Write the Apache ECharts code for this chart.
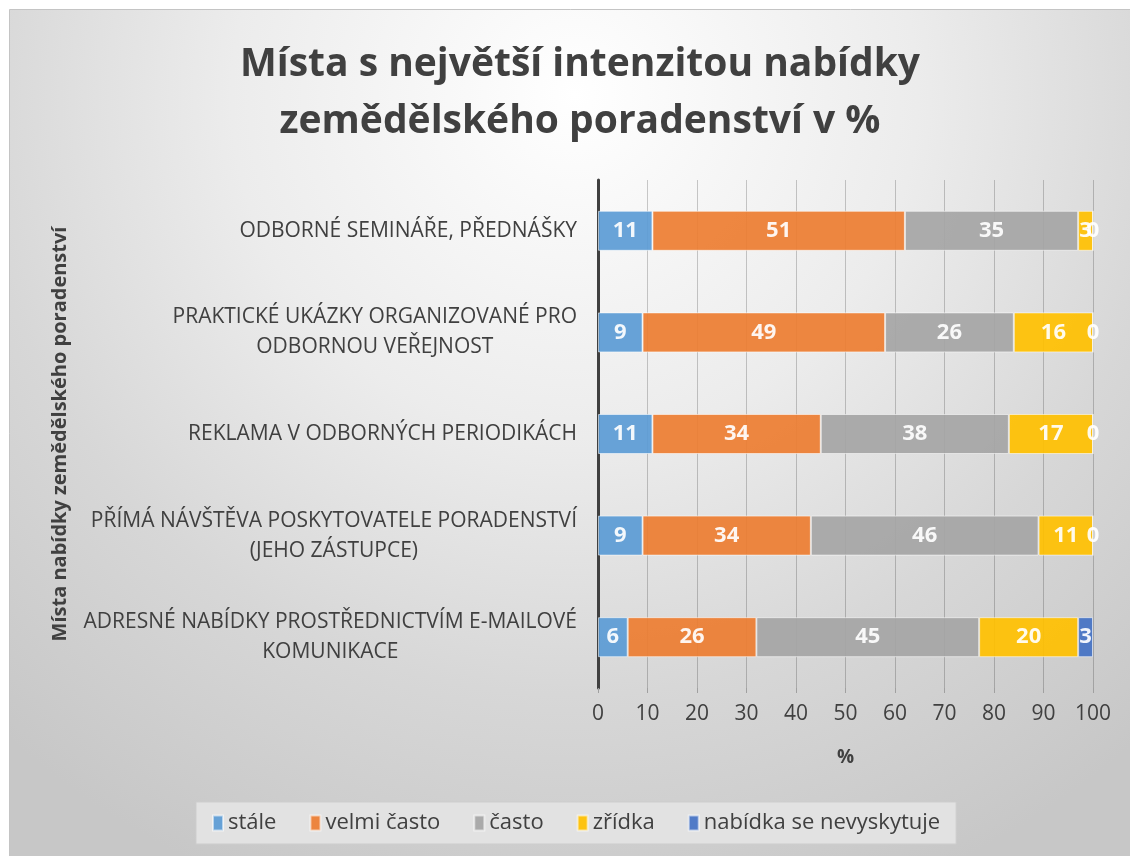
<!DOCTYPE html>
<html>
<head>
<meta charset="utf-8">
<script src="https://cdn.jsdelivr.net/npm/echarts@6/dist/echarts.min.js"></script>
<style>
  html, body { margin: 0; padding: 0; background: #fff; }
  #chart { width: 1130px; height: 856px; }
</style>
</head>
<body>
<div id="chart"></div>
<script>
const categories = [
  'ODBORNÉ SEMINÁŘE, PŘEDNÁŠKY',
  'PRAKTICKÉ UKÁZKY ORGANIZOVANÉ PRO\nODBORNOU VEŘEJNOST',
  'REKLAMA V ODBORNÝCH PERIODIKÁCH',
  'PŘÍMÁ NÁVŠTĚVA POSKYTOVATELE PORADENSTVÍ\n(JEHO ZÁSTUPCE)',
  'ADRESNÉ NABÍDKY PROSTŘEDNICTVÍM E-MAILOVÉ\nKOMUNIKACE'
]
const stale = [11, 9, 11, 9, 6]
const velmiCasto = [51, 49, 34, 34, 26]
const casto = [35, 26, 38, 46, 45]
const zridka = [3, 16, 17, 11, 20]
const nevyskytuje = [0, 0, 0, 0, 3]
const xTicks = [0, 10, 20, 30, 40, 50, 60, 70, 80, 90, 100]

const font = '"Open Sans", "DejaVu Sans", sans-serif'
const textColor = '#404040'

const seriesDefs = [
  { name: 'stále', data: stale, color: '#5b9bd5' },
  { name: 'velmi často', data: velmiCasto, color: '#ed7d31' },
  { name: 'často', data: casto, color: '#a5a5a5' },
  { name: 'zřídka', data: zridka, color: '#ffc000' },
  { name: 'nabídka se nevyskytuje', data: nevyskytuje, color: '#4472c4' }
]

const chart = echarts.init(document.getElementById('chart'))

const option = {
  backgroundColor: '#ffffff',
  textStyle: { fontFamily: font },
  graphic: [
    {
      type: 'rect',
      z: -10,
      silent: true,
      shape: { x: 9.5, y: 9.5, width: 1130, height: 856 },
      style: {
        fill: new echarts.graphic.RadialGradient(0.5, 0.1, 1, [
          { offset: 0, color: '#ffffff' },
          { offset: 0.4, color: '#ececec' },
          { offset: 0.7, color: '#d7d7d7' },
          { offset: 1, color: '#c7c7c7' }
        ]),
        stroke: '#c4c4c4',
        lineWidth: 1
      }
    }
  ],
  title: {
    text: 'Místa s největší intenzitou nabídky\nzemědělského poradenství v %',
    left: 575,
    top: 31,
    textAlign: 'center',
    textStyle: {
      fontFamily: font,
      fontSize: 39,
      fontWeight: 'bold',
      color: textColor,
      lineHeight: 57
    }
  },
  legend: {
    data: seriesDefs.map(s => s.name),
    left: 196,
    top: 802,
    icon: 'rect',
    itemWidth: 10,
    itemHeight: 15,
    itemGap: 33,
    padding: [10, 16],
    backgroundColor: '#e2e2e2',
    borderColor: '#cdcdcd',
    borderWidth: 1,
    textStyle: { fontFamily: font, fontSize: 22, color: textColor }
  },
  grid: {
    left: 598,
    right: 37,
    top: 180,
    bottom: 168,
    containLabel: false
  },
  xAxis: {
    type: 'value',
    min: 0,
    max: 100,
    interval: 10,
    name: '%',
    nameLocation: 'middle',
    nameGap: 60,
    nameTextStyle: { fontFamily: font, fontSize: 19, fontWeight: 'bold', color: textColor },
    axisLine: { show: false },
    axisTick: { show: true, length: 5, lineStyle: { color: '#a0a0a0' } },
    axisLabel: {
      margin: 16,
      fontSize: 21,
      color: textColor,
      fontFamily: font,
      formatter: v => xTicks.includes(v) ? String(v) : ''
    },
    splitLine: { show: true, lineStyle: { color: 'rgba(0,0,0,0.2)', width: 1 } }
  },
  yAxis: {
    type: 'category',
    inverse: true,
    data: categories,
    name: 'Místa nabídky zemědělského poradenství',
    nameLocation: 'middle',
    nameGap: 528,
    nameRotate: 90,
    nameTextStyle: { fontFamily: font, fontSize: 20, fontWeight: 'bold', color: textColor },
    axisLine: { show: true, lineStyle: { color: '#404040', width: 3 } },
    axisTick: { show: false },
    axisLabel: {
      margin: 21,
      align: 'right',
      formatter: v => v.split('\n').map(l => '{c|' + l + '}').join('\n'),
      rich: {
        c: { align: 'center', fontSize: 21, color: textColor, fontFamily: font, lineHeight: 30 }
      }
    }
  },
  series: seriesDefs.map(s => ({
    name: s.name,
    type: 'bar',
    stack: 'total',
    barWidth: 40,
    data: s.data,
    itemStyle: {
      color: s.color,
      opacity: 0.92,
      borderColor: 'rgba(255,255,255,0.6)',
      borderWidth: 1
    },
    label: {
      show: true,
      position: 'inside',
      color: '#ffffff',
      fontFamily: font,
      fontSize: 22,
      fontWeight: 'bold'
    },
    emphasis: { disabled: true }
  })),
  animation: false
}

chart.setOption(option)
window.addEventListener('resize', () => chart.resize())
</script>
</body>
</html>
